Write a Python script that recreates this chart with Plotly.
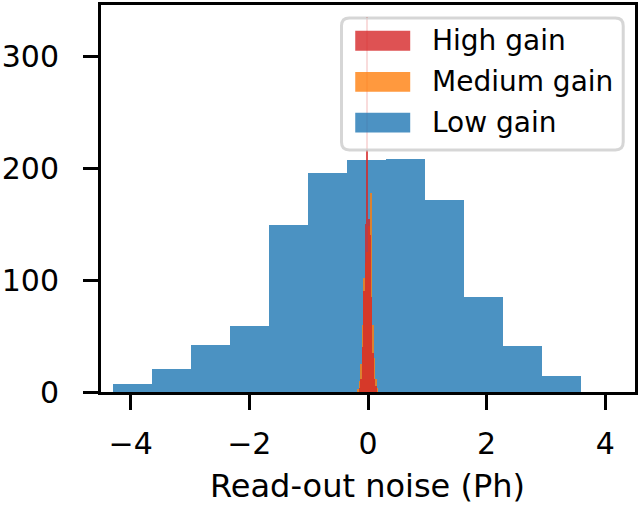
import plotly.graph_objects as go

# ---- data ----
low_edges = [-4.29, -3.633, -2.976, -2.319, -1.662, -1.005, -0.348, 0.309, 0.966, 1.623, 2.28, 2.937, 3.594]
low_counts = [7, 21, 42, 59, 149, 196, 207, 208, 172, 85, 41, 14]

medium_edges = [-0.175, -0.15, -0.125, -0.1, -0.075, -0.05, -0.025, 0.0, 0.025, 0.05, 0.075, 0.1, 0.125, 0.15, 0.175]
medium_counts = [3, 10, 25, 60, 102, 115, 125, 148, 130, 178, 60, 30, 12, 4]

high_edges = [-0.15, -0.125, -0.1, -0.075, -0.05, -0.025, 0.0, 0.025, 0.05, 0.075, 0.1, 0.125, 0.15]
high_counts = [4, 12, 40, 90, 150, 335, 155, 140, 85, 35, 12, 5]

series_names = ["High gain", "Medium gain", "Low gain"]
series_colors = ["#d62728", "#ff7f0e", "#1f77b4"]

x_ticks = [-4, -2, 0, 2, 4]
x_tick_labels = ["\u22124", "\u22122", "0", "2", "4"]
y_ticks = [0, 100, 200, 300]
y_tick_labels = ["0", "100", "200", "300"]
x_title = "Read-out noise (Ph)"

FONT = "DejaVu Sans"


def hist_trace(edges, counts, color, name):
    lefts = edges[:-1]
    widths = [b - a for a, b in zip(edges[:-1], edges[1:])]
    return go.Bar(x=lefts, y=counts, width=widths, offset=0,
                  marker=dict(color=color, line=dict(width=0)),
                  opacity=0.8, name=name, showlegend=False)


fig = go.Figure()
fig.add_trace(hist_trace(low_edges, low_counts, series_colors[2], series_names[2]))
fig.add_trace(hist_trace(medium_edges, medium_counts, series_colors[1], series_names[1]))
fig.add_trace(hist_trace(high_edges, high_counts, series_colors[0], series_names[0]))

# plot area in pixels
L, R, T, B = 93, 637, 2, 392
W, H = R - L, B - T


def px(xp):
    return (xp - L) / W


def py(yp):
    return (B - yp) / H


shapes = []
annotations = []

# legend frame (rounded rectangle)
x0, x1 = px(338), px(625)
y0, y1 = py(148), py(15)
rx, ry = 8 / W, 8 / H
path = (f"M {x0+rx},{y1} L {x1-rx},{y1} Q {x1},{y1} {x1},{y1-ry} "
        f"L {x1},{y0+ry} Q {x1},{y0} {x1-rx},{y0} L {x0+rx},{y0} "
        f"Q {x0},{y0} {x0},{y0+ry} L {x0},{y1-ry} Q {x0},{y1} {x0+rx},{y1} Z")
shapes.append(dict(type="path", xref="paper", yref="paper", path=path,
                   fillcolor="rgba(255,255,255,0.8)",
                   line=dict(color="rgba(204,204,204,0.8)", width=3), layer="above"))

row_centers = [38, 79.5, 120.5]
rgba = ["rgba(214,39,40,0.8)", "rgba(255,127,14,0.8)", "rgba(31,119,180,0.8)"]
for name, col, yc in zip(series_names, rgba, row_centers):
    shapes.append(dict(type="rect", xref="paper", yref="paper",
                       x0=px(352), x1=px(408), y0=py(yc + 10), y1=py(yc - 10),
                       fillcolor=col, line=dict(width=0), layer="above"))
    annotations.append(dict(xref="paper", yref="paper", x=px(428), y=py(yc),
                            xanchor="left", yanchor="middle", text=name, showarrow=False,
                            font=dict(family=FONT, size=28, color="black")))

annotations.append(dict(xref="paper", yref="paper", x=px(364), y=py(487),
                        xanchor="center", yanchor="middle", text=x_title, showarrow=False,
                        font=dict(family=FONT, size=32, color="black")))

axis_common = dict(showgrid=False, zeroline=False, showline=True, linecolor="black",
                   linewidth=3, mirror=True, ticks="outside", ticklen=15, tickwidth=3,
                   tickcolor="black", tickfont=dict(family=FONT, size=30, color="black"))

fig.update_layout(
    width=640, height=506,
    margin=dict(l=L, r=640 - R, t=T, b=506 - B, pad=0),
    paper_bgcolor="white", plot_bgcolor="white",
    barmode="overlay", bargap=0,
    showlegend=False,
    xaxis=dict(range=[-4.5, 4.5], tickvals=x_ticks, ticktext=x_tick_labels,
               ticklabelstandoff=8, **axis_common),
    yaxis=dict(range=[0, 346], tickvals=y_ticks, ticktext=y_tick_labels,
               ticklabelstandoff=18, **axis_common),
    shapes=shapes, annotations=annotations,
)

fig.write_html("out.html", config={"displayModeBar": False},
               post_script="document.body.style.margin='0';document.body.style.padding='0';")
